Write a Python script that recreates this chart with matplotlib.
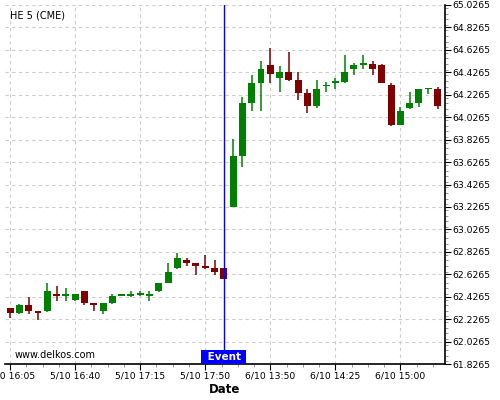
import numpy as np
import matplotlib
matplotlib.use("Agg")
import matplotlib.pyplot as plt
from matplotlib.ticker import FixedLocator, MultipleLocator, FuncFormatter
import matplotlib.transforms as mtransforms

# 5 minute candles, 5/10 16:05 -> 18:00 then 6/10 13:30 -> 15:20
times = (["5/10 %02d:%02d" % divmod(16 * 60 + 5 + 5 * i, 60) for i in range(24)] +
         ["6/10 %02d:%02d" % divmod(13 * 60 + 30 + 5 * i, 60) for i in range(23)])

opens = [62.33, 62.28, 62.35, 62.30, 62.30, 62.45, 62.43, 62.40, 62.48, 62.37,
         62.30, 62.37, 62.43, 62.43, 62.45, 62.43, 62.48, 62.55, 62.68, 62.75,
         62.73, 62.70, 62.68, 62.68, 63.23, 63.68, 64.15, 64.33, 64.49, 64.38,
         64.43, 64.36, 64.24, 64.13, 64.31, 64.34, 64.34, 64.46, 64.49, 64.50,
         64.49, 64.31, 63.96, 64.11, 64.15, 64.28, 64.28]
highs = [62.33, 62.36, 62.42, 62.30, 62.55, 62.52, 62.50, 62.45, 62.48, 62.37,
         62.37, 62.45, 62.45, 62.48, 62.48, 62.48, 62.55, 62.73, 62.82, 62.77,
         62.73, 62.80, 62.75, 62.68, 63.83, 64.21, 64.40, 64.53, 64.64, 64.48,
         64.61, 64.43, 64.28, 64.36, 64.34, 64.38, 64.58, 64.51, 64.58, 64.53,
         64.50, 64.33, 64.12, 64.25, 64.28, 64.29, 64.30]
lows = [62.24, 62.27, 62.27, 62.22, 62.29, 62.39, 62.39, 62.39, 62.35, 62.30,
        62.27, 62.36, 62.43, 62.42, 62.43, 62.39, 62.47, 62.55, 62.67, 62.70,
        62.62, 62.67, 62.62, 62.58, 63.23, 63.58, 64.08, 64.08, 64.33, 64.25,
        64.35, 64.18, 64.06, 64.11, 64.25, 64.28, 64.33, 64.40, 64.46, 64.40,
        64.33, 63.95, 63.96, 64.10, 64.12, 64.23, 64.10]
closes = [62.28, 62.35, 62.30, 62.28, 62.48, 62.43, 62.45, 62.45, 62.37, 62.35,
          62.37, 62.43, 62.45, 62.45, 62.45, 62.45, 62.55, 62.65, 62.77, 62.73,
          62.70, 62.68, 62.65, 62.58, 63.68, 64.15, 64.33, 64.46, 64.41, 64.43,
          64.36, 64.24, 64.13, 64.28, 64.32, 64.34, 64.43, 64.49, 64.51, 64.46,
          64.33, 63.96, 64.08, 64.15, 64.28, 64.29, 64.13]

event_idx = 23
y_ticks = [61.8265 + 0.2 * k for k in range(17)]

fig = plt.figure(figsize=(5, 4), dpi=100)
ax = fig.add_axes([0.01, 0.09, 0.88, 0.8975])

up_col = '#008000'
dn_col = '#800000'
x = np.arange(len(opens))
o = np.array(opens); c = np.array(closes)
cols = [up_col if cc >= oo else dn_col for oo, cc in zip(o, c)]
ax.vlines(x, lows, highs, colors=cols, linewidth=1.1, zorder=3)
# dojis get a thin body so they still show as a cross
flat = np.abs(c - o) < 0.012
ax.bar(x, np.maximum(np.abs(c - o), 0.012), bottom=np.minimum(o, c) - np.where(flat, 0.006, 0),
       width=0.75, color=cols, linewidth=0, zorder=4)

# event line + label
ax.axvline(event_idx, color='#0000ff', linewidth=1, zorder=5)
trans = mtransforms.blended_transform_factory(ax.transData, ax.transAxes)
ax.text(event_idx, 0.006, " Event ", transform=trans, ha='center', va='bottom',
        color='white', fontsize=7.5, fontweight='bold', zorder=6,
        bbox=dict(boxstyle='square,pad=0.22', facecolor='#0000ff', edgecolor='none'))

ax.set_xlim(-0.55, 46.8)
ax.set_ylim(61.8265, 65.0265)

ax.xaxis.set_major_locator(FixedLocator(list(range(0, len(times), 7))))
ax.xaxis.set_minor_locator(MultipleLocator(1.75))
ax.xaxis.set_major_formatter(FuncFormatter(lambda v, p: times[int(round(v))] if 0 <= int(round(v)) < len(times) else ""))
ax.yaxis.set_major_locator(FixedLocator(y_ticks))
ax.yaxis.set_minor_locator(MultipleLocator(0.05))
ax.yaxis.set_major_formatter(FuncFormatter(lambda v, p: "%.4f" % v))
ax.yaxis.tick_right()
ax.tick_params(axis='both', which='major', labelsize=6.7, length=4, width=0.8, pad=1.5)
ax.tick_params(axis='both', which='minor', length=2, width=0.6, color='#888888')

for s in ['left', 'top']:
    ax.spines[s].set_visible(False)
ax.spines['right'].set_linewidth(1.2)
ax.spines['bottom'].set_linewidth(1.2)

ax.grid(True, which='major', color='#cccccc', linestyle=(0, (3, 3)), linewidth=0.8)
ax.set_axisbelow(True)

ax.text(0.012, 0.985, "HE 5 (CME)", transform=ax.transAxes, fontsize=7, va='top', ha='left')
ax.text(0.022, 0.012, "www.delkos.com", transform=ax.transAxes, fontsize=7, va='bottom', ha='left')
ax.set_xlabel("Date", fontsize=8.5, fontweight='bold', labelpad=2)

fig.savefig("out.png", dpi=100)
